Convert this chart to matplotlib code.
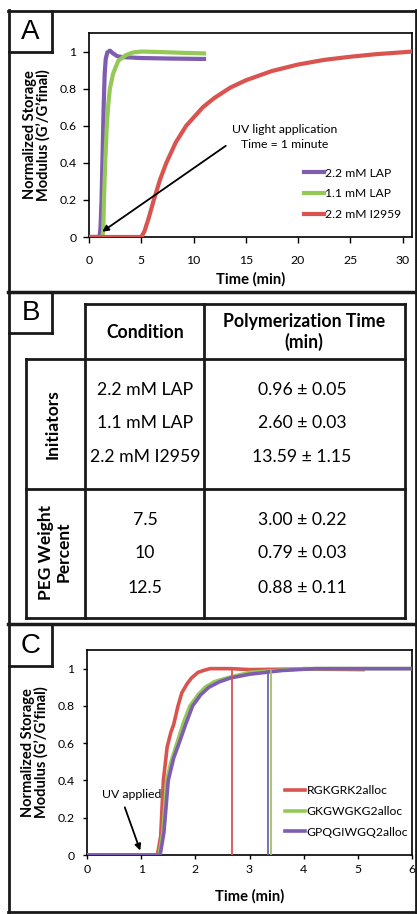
import matplotlib
matplotlib.use("Agg")
import matplotlib.pyplot as plt
from matplotlib.lines import Line2D

plt.rcParams['font.family'] = ['Lato', 'DejaVu Sans']

# panel A: normalized storage modulus vs time, initiators
a_lap22_t = [0, 1.0, 1.1, 1.2, 1.3, 1.4, 1.5, 1.6, 1.75, 2.0, 2.3, 2.7, 3.2, 5, 8, 11]
a_lap22_y = [0, 0, 0.05, 0.2, 0.45, 0.7, 0.88, 0.96, 0.995, 1.005, 0.99, 0.975, 0.97, 0.965, 0.962, 0.96]
a_lap11_t = [0, 1.3, 1.37, 1.43, 1.55, 1.7, 1.85, 2.0, 2.3, 2.8, 3.5, 4.2, 5.0, 7, 9, 11]
a_lap11_y = [0, 0, 0.05, 0.2, 0.4, 0.6, 0.72, 0.8, 0.88, 0.95, 0.98, 0.995, 1.0, 0.997, 0.993, 0.99]
a_i2959_t = [0, 5.0, 5.3, 5.7, 6.2, 6.8, 7.4, 8.3, 9.3, 10.9, 12, 13.5, 15, 17.5, 20, 22.5, 25, 27.5, 30, 30.9]
a_i2959_y = [0, 0, 0.03, 0.1, 0.2, 0.31, 0.4, 0.51, 0.6, 0.7, 0.75, 0.805, 0.845, 0.895, 0.93, 0.955, 0.972, 0.986, 0.996, 1.0]
a_labels = ['2.2 mM LAP', '1.1 mM LAP', '2.2 mM I2959']

# panel B: table
b_header = ['Condition', 'Polymerization Time\n(min)']
b_init_cond = ['2.2 mM LAP', '1.1 mM LAP', '2.2 mM I2959']
b_init_time = ['0.96 ± 0.05', '2.60 ± 0.03', '13.59 ± 1.15']
b_peg_cond = ['7.5', '10', '12.5']
b_peg_time = ['3.00 ± 0.22', '0.79 ± 0.03', '0.88 ± 0.11']

# panel C: crosslinkers
c_red_t = [0, 1.3, 1.36, 1.41, 1.48, 1.55, 1.6, 1.68, 1.75, 1.85, 1.93, 2.05, 2.15, 2.27, 2.65, 3.0, 4.0, 5.1]
c_red_y = [0, 0, 0.1, 0.4, 0.58, 0.66, 0.7, 0.8, 0.87, 0.92, 0.95, 0.98, 0.99, 1.0, 1.0, 0.995, 0.998, 0.995]
c_green_t = [0, 1.33, 1.4, 1.47, 1.55, 1.66, 1.78, 1.9, 2.05, 2.18, 2.35, 2.58, 3.0, 3.5, 4.0, 5.0, 6.0]
c_green_y = [0, 0, 0.12, 0.4, 0.5, 0.6, 0.71, 0.8, 0.86, 0.9, 0.93, 0.95, 0.98, 0.99, 1.0, 1.0, 1.0]
c_purple_t = [0, 1.35, 1.42, 1.5, 1.6, 1.7, 1.82, 1.95, 2.1, 2.25, 2.45, 2.65, 3.0, 3.6, 4.2, 5.0, 6.0]
c_purple_y = [0, 0, 0.12, 0.4, 0.52, 0.6, 0.7, 0.8, 0.86, 0.9, 0.93, 0.95, 0.97, 0.99, 1.0, 1.0, 1.0]
c_labels = ['RGKGRK2alloc', 'GKGWGKG2alloc', 'GPQGIWGQ2alloc']
c_gel_times = [2.67, 3.39, 3.34]
c_gel_tops = [1.0, 0.99, 0.985]

RED = '#D9534F'
GREEN = '#95C957'
PURPLE = '#7E5CB0'

W, H = 417, 914
fig = plt.figure(figsize=(W / 100, H / 100), dpi=100)


def fx(px):
    return px / W


def fy(py):
    return 1 - py / H


def hline(y, x0, x1, lw=2.0):
    fig.add_artist(Line2D([fx(x0), fx(x1)], [fy(y), fy(y)], color='#1a1a1a', lw=lw))


def vline(x, y0, y1, lw=2.0):
    fig.add_artist(Line2D([fx(x), fx(x)], [fy(y0), fy(y1)], color='#1a1a1a', lw=lw))


def add_axes(left, right, top, bottom):
    return fig.add_axes([fx(left), fy(bottom), fx(right) - fx(left), fy(top) - fy(bottom)])


def style_axes(ax, xmax, xticks, ticklen, xpad, xlabelpad):
    ax.set_xlim(0, xmax)
    ax.set_ylim(0, 1.1)
    ax.set_xticks(xticks)
    ax.set_xticklabels([str(t) for t in xticks])
    yt = [0, 0.2, 0.4, 0.6, 0.8, 1.0]
    ax.set_yticks(yt)
    ax.set_yticklabels(['0', '0.2', '0.4', '0.6', '0.8', '1'])
    ax.tick_params(direction='out', length=ticklen, width=1, labelsize=8.8)
    ax.tick_params(axis='x', pad=xpad)
    ax.tick_params(axis='y', pad=9 - ticklen)
    for s in ax.spines.values():
        s.set_linewidth(1.2)
    ax.set_xlabel('Time (min)', fontsize=10.6, fontweight='bold', labelpad=xlabelpad)
    ax.set_ylabel('Normalized Storage\nModulus (G\u2019/G\u2019final)', fontsize=10.5,
                  fontweight='bold', labelpad=6, linespacing=1.0)


# outer frames
vline(9, 10, 913)
vline(415.5, 10, 913)
hline(11, 8, 417)
hline(292, 8, 417, lw=2.5)
hline(624, 8, 417, lw=2.5)
hline(912, 8, 417)

# panel letter boxes
for letter, top in [('A', 11), ('B', 292), ('C', 625)]:
    hline(top + 41, 9, 52)
    vline(52, top, top + 41)
    fig.text(fx(30.5), fy(top + 21), letter, fontsize=20, family='Liberation Sans',
             ha='center', va='center')

# ---- panel A ----
axA = add_axes(89, 412, 33, 237)
axA.plot(a_lap22_t, a_lap22_y, color=PURPLE, lw=3, label=a_labels[0], zorder=3)
axA.plot(a_lap11_t, a_lap11_y, color=GREEN, lw=3, label=a_labels[1], zorder=3)
axA.plot(a_i2959_t, a_i2959_y, color=RED, lw=3, label=a_labels[2], zorder=3)
style_axes(axA, 30.9, [0, 5, 10, 15, 20, 25, 30], 4.5, 8.5, 4.5)
axA.annotate('', xy=(1.05, 0.02), xytext=(13.3, 0.5),
             arrowprops=dict(arrowstyle='-|>', color='black', lw=1.3, mutation_scale=9), zorder=4)
axA.text(18.7, 0.54, 'UV light application\nTime = 1 minute', fontsize=8.8,
         ha='center', va='center', linespacing=1.5)
axA.legend(loc='upper left', bbox_to_anchor=(0.665, 0.34), frameon=False, fontsize=8.7,
           handlelength=1.65, handletextpad=0.1, labelspacing=0.8, borderpad=0, borderaxespad=0)

# ---- panel B: table ----
hline(304, 85, 405)
hline(359, 26, 405)
hline(489, 26, 405)
hline(618, 26, 405)
vline(26, 359, 618)
vline(85, 304, 618)
vline(204, 304, 618)
vline(405, 304, 618)

fig.text(fx(145), fy(333), b_header[0], fontsize=12.7, fontweight='bold', ha='center', va='center')
fig.text(fx(304), fy(332), b_header[1], fontsize=12.7, fontweight='bold', ha='center', va='center',
         linespacing=1.15)
fig.text(fx(53), fy(424), 'Initiators', fontsize=12.5, fontweight='bold', rotation=90,
         ha='center', va='center')
fig.text(fx(55), fy(552), 'PEG Weight\nPercent', fontsize=12.5, fontweight='bold', rotation=90,
         ha='center', va='center', linespacing=1.1)
for i, y in enumerate([390, 423, 457]):
    fig.text(fx(145), fy(y), b_init_cond[i], fontsize=12.7, ha='center', va='center')
    fig.text(fx(302), fy(y), b_init_time[i], fontsize=12.7, ha='center', va='center')
for i, y in enumerate([520, 553, 588]):
    fig.text(fx(145), fy(y), b_peg_cond[i], fontsize=12.7, ha='center', va='center')
    fig.text(fx(302), fy(y), b_peg_time[i], fontsize=12.7, ha='center', va='center')

# ---- panel C ----
axC = add_axes(87, 412, 650, 855)
axC.plot(c_red_t, c_red_y, color=RED, lw=2.6, label=c_labels[0], zorder=3)
axC.plot(c_green_t, c_green_y, color=GREEN, lw=2.6, label=c_labels[1], zorder=3)
axC.plot(c_purple_t, c_purple_y, color=PURPLE, lw=2.6, label=c_labels[2], zorder=3)
for t, top, col in zip(c_gel_times, c_gel_tops, [RED, GREEN, PURPLE]):
    axC.plot([t, t], [0, top], color=col, lw=1.3, zorder=4)
style_axes(axC, 6, [0, 1, 2, 3, 4, 5, 6], 2.8, 4, 10)
axC.annotate('', xy=(1.0, 0.01), xytext=(0.68, 0.27),
             arrowprops=dict(arrowstyle='-|>', color='black', lw=1.3, mutation_scale=9), zorder=4)
axC.text(0.83, 0.325, 'UV applied', fontsize=8.8, ha='center', va='center')
axC.legend(loc='upper left', bbox_to_anchor=(0.61, 0.34), frameon=False, fontsize=8.7,
           handlelength=1.65, handletextpad=0.1, labelspacing=0.8, borderpad=0, borderaxespad=0)

fig.savefig('out.png', dpi=100)
